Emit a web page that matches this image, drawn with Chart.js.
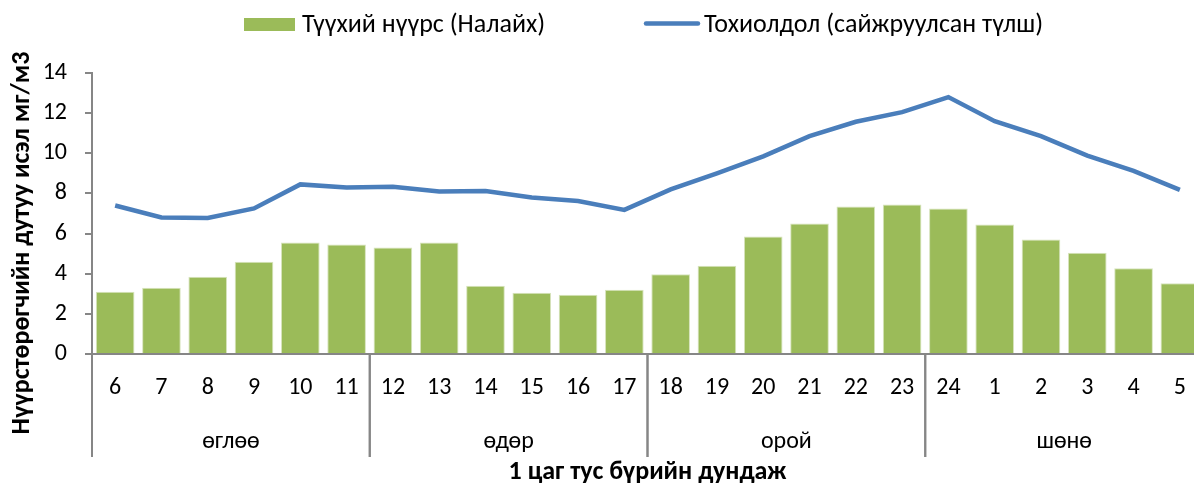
<!DOCTYPE html>
<html>
<head>
<meta charset="utf-8">
<script src="https://cdn.jsdelivr.net/npm/chart.js@4"></script>
<style>
  html, body { margin: 0; padding: 0; background: #fff; overflow: hidden; }
  /* plot runs a few px past the right edge, as in the source image */
  #wrap { width: 1203px; height: 488px; }
</style>
</head>
<body>
<div id="wrap"><canvas id="chart"></canvas></div>
<script>
const hours = ["6", "7", "8", "9", "10", "11", "12", "13", "14", "15", "16", "17",
               "18", "19", "20", "21", "22", "23", "24", "1", "2", "3", "4", "5"];
const periods = ["өглөө", "өдөр", "орой", "шөнө"];
const hoursPerPeriod = 6;

const rawCoal = [3.1, 3.3, 3.85, 4.6, 5.55, 5.45, 5.3, 5.55, 3.4, 3.05, 2.95, 3.2,
                 3.97, 4.4, 5.85, 6.5, 7.35, 7.45, 7.25, 6.45, 5.7, 5.05, 4.27, 3.52];
const improvedFuel = [7.4, 6.8, 6.78, 7.25, 8.45, 8.3, 8.33, 8.1, 8.12, 7.8, 7.62, 7.18,
                      8.2, 9.0, 9.85, 10.85, 11.57, 12.05, 12.8, 11.6, 10.85, 9.88, 9.12, 8.18];

const FONT = "Carlito, 'Open Sans', sans-serif";
const AXIS_GRAY = "#868686";

// legend, category groups and y title drawn by hand (Excel style)
const decorations = {
  id: "decorations",
  afterDraw(chart) {
    const { ctx, chartArea, scales } = chart;
    const x = scales.x;
    ctx.save();

    // group separators + group labels
    ctx.strokeStyle = AXIS_GRAY;
    ctx.lineWidth = 2;
    ctx.fillStyle = "#000";
    ctx.font = "24px " + FONT;
    ctx.textAlign = "center";
    ctx.textBaseline = "middle";
    const half = (x.getPixelForValue(1) - x.getPixelForValue(0)) / 2;
    periods.forEach((p, g) => {
      const first = g * hoursPerPeriod;
      const last = first + hoursPerPeriod - 1;
      const left = x.getPixelForValue(first) - half;
      const right = x.getPixelForValue(last) + half;
      [left, right].forEach(px => {
        ctx.beginPath();
        ctx.moveTo(px, chartArea.bottom);
        ctx.lineTo(px, 457);
        ctx.stroke();
      });
      ctx.fillText(p, (left + right) / 2, 442);
    });

    // y axis title
    ctx.font = "bold 26px " + FONT;
    ctx.textBaseline = "alphabetic";
    ctx.translate(29, 243);
    ctx.rotate(-Math.PI / 2);
    ctx.fillText("Нүүрстөрөгчийн дутуу исэл мг/м3", 0, 0);
    ctx.restore();

    // legend
    const line = chart.data.datasets[0];
    const bars = chart.data.datasets[1];
    ctx.save();
    ctx.font = "26px " + FONT;
    ctx.textBaseline = "middle";
    ctx.fillStyle = bars.backgroundColor;
    ctx.fillRect(244, 18, 51, 13);
    ctx.fillStyle = "#000";
    ctx.fillText(bars.label, 302, 25);
    ctx.strokeStyle = line.borderColor;
    ctx.lineWidth = 4.5;
    ctx.lineCap = "round";
    ctx.beginPath();
    ctx.moveTo(646, 23.5);
    ctx.lineTo(698, 23.5);
    ctx.stroke();
    ctx.fillText(line.label, 704, 25);
    ctx.restore();
  }
};

new Chart(document.getElementById("chart"), {
  type: "bar",
  data: {
    labels: hours,
    datasets: [
      {
        type: "line",
        label: "Тохиолдол (сайжруулсан түлш)",
        data: improvedFuel,
        borderColor: "#4a7ebb",
        borderWidth: 4.5,
        pointRadius: 0,
        tension: 0,
        order: 0
      },
      {
        label: "Түүхий нүүрс (Налайх)",
        data: rawCoal,
        backgroundColor: "#9bbb59",
        borderColor: "#d7e4bd",
        borderWidth: 1,
        barPercentage: 0.835,
        categoryPercentage: 1,
        order: 1
      }
    ]
  },
  options: {
    responsive: true,
    maintainAspectRatio: false,
    animation: false,
    layout: { padding: { top: 73, right: 0, left: 0, bottom: 0 } },
    plugins: {
      legend: { display: false },
      tooltip: { enabled: false }
    },
    scales: {
      x: {
        grid: { display: false, drawTicks: false },
        border: { color: AXIS_GRAY, width: 2 },
        ticks: { color: "#000", font: { family: FONT, size: 24 }, padding: 20, maxRotation: 0, autoSkip: false },
        title: {
          display: true,
          text: "1 цаг тус бүрийн дундаж",
          color: "#000",
          font: { family: FONT, size: 26, weight: "bold" },
          padding: { top: 0, bottom: 0 }
        },
        afterFit: s => { s.height = 134; s.paddingLeft = 0; s.paddingRight = 0; }
      },
      y: {
        min: 0,
        max: 14,
        ticks: { stepSize: 2, color: "#000", font: { family: FONT, size: 24 }, padding: 18 },
        grid: { display: true, drawOnChartArea: false, drawTicks: true, tickLength: 7, color: AXIS_GRAY, lineWidth: 2 },
        border: { color: AXIS_GRAY, width: 2 },
        afterFit: s => { s.width = 92; }
      }
    }
  },
  plugins: [decorations]
});
</script>
</body>
</html>
